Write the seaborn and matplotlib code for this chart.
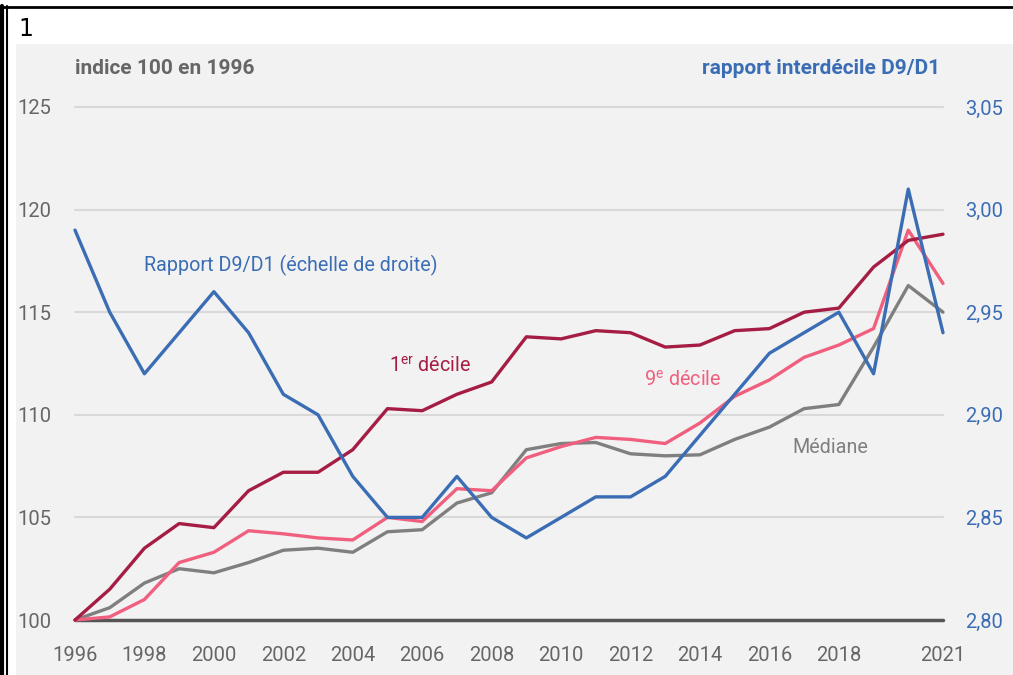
import matplotlib
matplotlib.use("Agg")
import matplotlib.pyplot as plt
from matplotlib import font_manager
from matplotlib.patches import Rectangle
from matplotlib.lines import Line2D
from matplotlib.ticker import FuncFormatter
import seaborn as sns
import pandas as pd

years = list(range(1996, 2022))
decile1 = [100.0, 101.5, 103.5, 104.7, 104.5, 106.3, 107.2, 107.2, 108.3, 110.3,
           110.2, 111.0, 111.6, 113.8, 113.7, 114.1, 114.0, 113.3, 113.4, 114.1,
           114.2, 115.0, 115.2, 117.2, 118.5, 118.8]
decile9 = [100.0, 100.15, 101.0, 102.8, 103.3, 104.35, 104.2, 104.0, 103.9, 105.0,
           104.8, 106.4, 106.3, 107.9, 108.45, 108.9, 108.8, 108.6, 109.6, 110.9,
           111.7, 112.8, 113.4, 114.2, 119.0, 116.4]
mediane = [100.0, 100.6, 101.8, 102.5, 102.3, 102.8, 103.4, 103.5, 103.3, 104.3,
           104.4, 105.7, 106.2, 108.3, 108.6, 108.65, 108.1, 108.0, 108.05, 108.8,
           109.4, 110.3, 110.5, 113.3, 116.3, 115.0]
rapport = [2.99, 2.95, 2.92, 2.94, 2.96, 2.94, 2.91, 2.90, 2.87, 2.85,
           2.85, 2.87, 2.85, 2.84, 2.85, 2.86, 2.86, 2.87, 2.89, 2.91,
           2.93, 2.94, 2.95, 2.92, 3.01, 2.94]
xtick_years = [1996, 1998, 2000, 2002, 2004, 2006, 2008, 2010, 2012, 2014, 2016, 2018, 2021]
left_ticks = [100, 105, 110, 115, 120, 125]
right_ticks = [2.80, 2.85, 2.90, 2.95, 3.00, 3.05]

df = pd.DataFrame({"annee": years, "d1": decile1, "d9": decile9,
                   "med": mediane, "rapport": rapport})

sns.set_theme(style="white")
available = {f.name for f in font_manager.fontManager.ttflist}
fam = [f for f in ["Liberation Sans Narrow", "Roboto", "Open Sans", "DejaVu Sans"] if f in available]
plt.rcParams["font.family"] = fam + ["DejaVu Sans"]
plt.rcParams["mathtext.fontset"] = "custom"

W, H = 1013, 675
fig = plt.figure(figsize=(W / 100, H / 100), dpi=100, facecolor="white")

# panel background and frame
fig.add_artist(Rectangle((16 / W, 0), 1 - 16 / W, 1 - 44 / H, transform=fig.transFigure,
                         facecolor="#f2f2f2", edgecolor="none", zorder=0))
fig.add_artist(Line2D([0, 1], [1 - 7 / H, 1 - 7 / H], transform=fig.transFigure,
                      color="black", lw=2.0))
fig.add_artist(Line2D([2 / W, 2 / W], [0, 1 - 6 / H], transform=fig.transFigure,
                      color="black", lw=3.0))
fig.add_artist(Line2D([6.5 / W, 6.5 / W], [0, 1 - 6 / H], transform=fig.transFigure,
                      color="black", lw=1.5))
fig.text(18 / W, 1 - 29 / H, "1", fontsize=17, color="black", va="center", ha="left",
         family=["DejaVu Sans"])

x0, x1 = 75 / W, 943 / W
y0, y1 = 1 - 620 / H, 1 - 107 / H
ax = fig.add_axes([x0, y0, x1 - x0, y1 - y0])
ax.set_facecolor("none")
ax2 = ax.twinx()

c_d1 = "#a51d43"
c_d9 = "#f0607e"
c_med = "#7f7f7f"
c_blue = "#3b6db5"
gray_txt = "#666666"

for yv in left_ticks[1:]:
    ax.axhline(yv, color="#d9d9d9", lw=1.5, zorder=1)
ax.axhline(100, color="#555555", lw=2.5, zorder=1)

sns.lineplot(data=df, x="annee", y="med", ax=ax, color=c_med, lw=2.4, zorder=3)
sns.lineplot(data=df, x="annee", y="d9", ax=ax, color=c_d9, lw=2.4, zorder=4)
sns.lineplot(data=df, x="annee", y="d1", ax=ax, color=c_d1, lw=2.4, zorder=5)
sns.lineplot(data=df, x="annee", y="rapport", ax=ax2, color=c_blue, lw=2.4, zorder=6)

ax.set_xlim(1996, 2021)
ax.set_ylim(100, 125)
ax2.set_ylim(2.80, 3.05)
ax.set_xticks(xtick_years)
ax.set_xticklabels([str(y) for y in xtick_years])
ax.set_yticks(left_ticks)
ax2.set_yticks(right_ticks)
ax2.yaxis.set_major_formatter(FuncFormatter(lambda v, p: f"{v:.2f}".replace(".", ",")))

for a in (ax, ax2):
    for s in a.spines.values():
        s.set_visible(False)
    a.set_xlabel("")
    a.set_ylabel("")
    for line in a.get_lines():
        line.set_clip_on(False)

fs = 14.5
ax.tick_params(axis="x", length=0, pad=19, labelsize=fs, labelcolor=gray_txt)
ax.tick_params(axis="y", length=0, pad=17, labelsize=fs, labelcolor=gray_txt)
ax2.tick_params(axis="y", length=0, pad=16, labelsize=fs, labelcolor=c_blue)

fig.text(75 / W, 1 - 68 / H, "indice 100 en 1996", color=gray_txt, fontsize=15,
         ha="left", va="center", fontweight="bold")
fig.text(940 / W, 1 - 68 / H, "rapport interdécile D9/D1", color=c_blue, fontsize=15,
         ha="right", va="center", fontweight="bold")

lfs = 14.2
ax.text(1998.0, 117.3, "Rapport D9/D1 (échelle de droite)", color=c_blue, fontsize=lfs,
        ha="left", va="center")
ax.text(2005.05, 112.4, r"1$^{\mathregular{er}}$ décile", color=c_d1, fontsize=lfs,
        ha="left", va="center")
ax.text(2012.4, 111.7, r"9$^{\mathregular{e}}$ décile", color=c_d9, fontsize=lfs,
        ha="left", va="center")
ax.text(2016.65, 108.4, "Médiane", color=c_med, fontsize=lfs, ha="left", va="center")

fig.savefig("out.png", dpi=100, facecolor="white")
